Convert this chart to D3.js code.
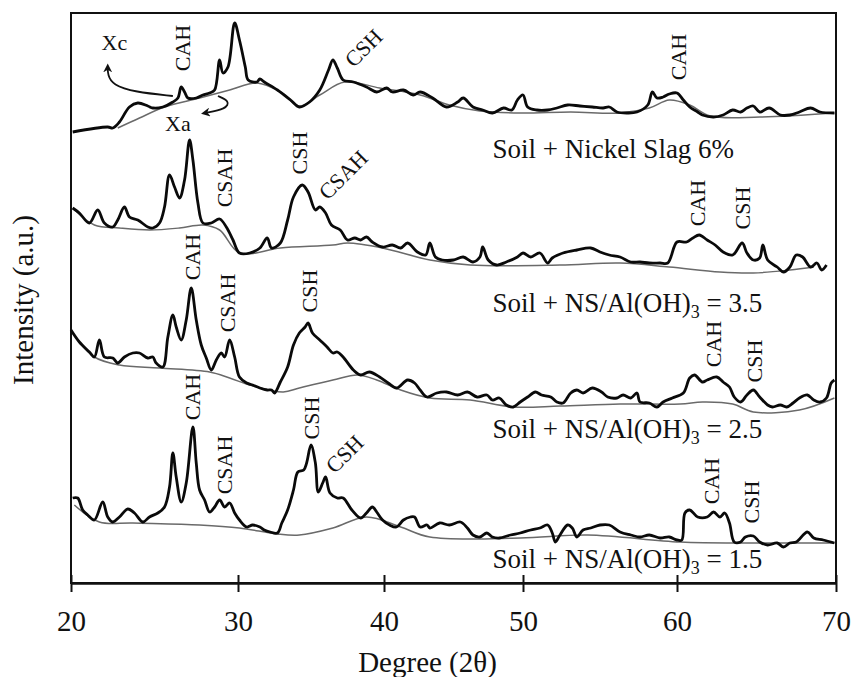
<!DOCTYPE html>
<html>
<head>
<meta charset="utf-8">
<script src="https://cdn.jsdelivr.net/npm/d3@7"></script>
<style>
  body { margin: 0; background: #fff; }
  text { font-family: "Liberation Serif", "Times New Roman", serif; fill: #111; }
</style>
</head>
<body>
<svg id="chart" width="853" height="677"></svg>
<script>
// x ticks (degree 2θ) and their labels
const tickDegrees = [20, 30, 40, 50, 60, 70];
const tickLabels = ['20', '30', '40', '50', '60', '70'];

// traced patterns, [2θ, intensity a.u. (stacked offset included)]
const nickelSlag6 = [[20.1,451],[22.2,456],[22.5,455],[22.9,461],[23.5,476],[24.0,480],[24.6,477],[24.9,475],[25.5,476],[26.1,481],[26.4,485],[26.6,496],[26.8,491],[27.0,485],[27.5,485],[27.9,488],[28.3,490],[28.6,493],[28.9,523],[29.1,510],[29.4,516],[29.8,560],[30.1,543],[30.5,516],[30.7,503],[31.3,501],[31.5,504],[31.8,501],[32.7,493],[33.6,483],[34.2,476],[34.9,481],[35.6,493],[36.2,513],[36.5,523],[36.8,515],[37.2,503],[37.9,501],[38.8,496],[39.5,491],[40.2,495],[40.6,491],[41.4,493],[42.1,488],[42.6,491],[43.5,485],[44.5,476],[45.3,481],[45.7,485],[46.4,476],[47.1,473],[47.8,470],[48.6,475],[49.2,473],[49.6,483],[50.0,488],[50.3,476],[50.9,473],[51.6,473],[52.2,475],[52.9,478],[53.7,477],[54.5,476],[55.2,475],[55.6,476],[56.1,471],[56.8,470],[57.4,471],[58.1,478],[58.4,491],[58.7,485],[59.1,486],[59.5,489],[60.0,490],[60.4,483],[60.8,476],[61.3,471],[61.6,468],[62.3,466],[62.9,468],[63.5,473],[64.0,471],[64.4,475],[64.8,477],[65.2,471],[65.8,475],[66.5,468],[67.1,468],[67.7,471],[68.4,475],[69.0,471],[69.9,470]];
const nickelSlag6Base = [[22.8,455],[24.1,465],[25.6,476],[27.7,485],[29.5,493],[31.3,500],[32.9,491],[34.2,477],[35.6,488],[37.3,501],[39.7,495],[42.6,488],[44.7,478],[46.9,472],[49.8,470],[53.1,471],[56.3,470],[58.2,475],[59.5,483],[60.8,478],[62.1,467],[65.2,466],[69.9,470]];

const ratio35 = [[20.1,375],[20.5,370],[21.1,360],[21.6,373],[22.0,360],[22.5,356],[22.8,363],[23.2,376],[23.5,366],[24.0,363],[24.6,356],[24.9,355],[25.3,360],[25.6,376],[25.9,408],[26.2,396],[26.5,385],[26.8,403],[27.1,443],[27.3,423],[27.6,380],[27.9,360],[28.4,360],[28.9,364],[29.3,356],[29.7,343],[30.1,330],[30.8,330],[31.5,335],[32.0,345],[32.3,335],[32.9,340],[33.4,363],[33.8,386],[34.4,398],[34.8,391],[35.3,373],[35.6,376],[36.0,370],[36.4,358],[37.0,353],[37.5,343],[38.0,345],[38.4,343],[38.8,346],[39.2,341],[39.9,336],[40.6,338],[41.2,335],[41.7,340],[42.4,331],[43.0,328],[43.3,340],[43.7,326],[44.2,323],[45.0,323],[45.7,326],[46.4,321],[46.9,326],[47.1,336],[47.5,323],[48.1,318],[48.8,321],[49.6,326],[50.0,330],[50.5,326],[51.1,330],[51.6,320],[51.9,325],[52.6,330],[53.5,333],[54.4,335],[55.0,331],[55.6,328],[56.3,326],[57.0,321],[57.6,321],[58.2,320],[58.9,320],[59.4,320],[60.0,341],[60.6,341],[61.0,345],[61.4,348],[61.9,343],[62.4,338],[62.9,331],[63.5,328],[64.1,340],[64.4,330],[64.8,323],[65.2,325],[65.4,338],[65.7,323],[66.3,316],[66.7,311],[67.1,316],[67.5,328],[67.9,326],[68.4,316],[68.8,320],[69.1,313],[69.4,318]];
const ratio35Base = [[20.1,375],[21.4,358],[22.9,355],[24.7,353],[26.5,355],[27.9,358],[28.9,353],[30.1,330],[32.9,335],[36.5,338],[37.5,340],[39.9,335],[43.3,323],[46.2,318],[52.4,318],[56.3,320],[59.5,316],[62.7,311],[64.8,310],[67.1,313],[68.6,316]];

const ratio25 = [[20.0,253],[20.5,241],[21.1,231],[21.4,226],[21.7,243],[22.0,226],[22.5,225],[22.8,220],[23.2,226],[23.7,230],[24.1,230],[24.6,225],[24.9,226],[25.1,220],[25.5,216],[25.8,246],[26.1,268],[26.3,256],[26.6,243],[26.9,263],[27.2,295],[27.5,263],[27.8,238],[28.1,225],[28.4,213],[28.7,223],[29.0,230],[29.2,226],[29.5,243],[29.8,226],[30.1,206],[30.6,200],[31.0,198],[31.5,195],[32.0,193],[32.3,193],[32.5,190],[32.9,201],[33.4,216],[33.8,238],[34.2,250],[34.6,256],[34.8,260],[35.1,250],[35.6,243],[36.1,236],[36.5,230],[36.8,231],[37.2,226],[37.9,213],[38.4,208],[39.0,211],[39.7,206],[40.3,200],[40.9,195],[41.7,203],[42.2,200],[42.6,193],[43.1,186],[43.8,190],[44.5,191],[45.3,188],[46.0,191],[46.7,186],[47.4,188],[47.8,183],[48.3,185],[48.8,178],[49.3,176],[49.8,181],[50.3,186],[50.8,191],[51.2,188],[51.8,186],[52.2,181],[52.6,180],[53.1,190],[53.5,193],[53.9,190],[54.5,195],[55.1,191],[55.5,186],[56.1,185],[56.5,188],[57.0,185],[57.4,190],[57.6,181],[58.2,180],[58.7,176],[59.1,181],[59.7,185],[60.4,190],[60.8,205],[61.1,208],[61.6,201],[61.9,203],[62.5,206],[62.9,201],[63.3,196],[63.6,186],[64.0,181],[64.4,188],[64.8,193],[65.2,186],[65.7,178],[66.0,176],[66.5,178],[66.9,176],[67.3,180],[67.7,185],[68.2,188],[68.6,183],[69.0,181],[69.4,185],[69.7,200],[69.9,203]];
const ratio25Base = [[20.1,250],[21.4,226],[22.9,218],[25.3,215],[28.3,211],[29.5,205],[30.8,198],[33.1,191],[34.2,195],[36.5,203],[38.2,208],[39.5,203],[41.2,193],[43.3,185],[46.2,183],[49.3,176],[52.4,177],[56.3,179],[60.2,179],[61.6,181],[63.5,179],[64.8,171],[67.7,173],[69.9,185]];

const ratio15 = [[20.1,85],[20.4,85],[20.7,73],[21.0,68],[21.4,63],[21.9,81],[22.2,66],[22.5,61],[22.9,66],[23.4,74],[23.8,70],[24.3,61],[24.7,66],[25.2,70],[25.6,76],[25.9,96],[26.1,130],[26.3,106],[26.6,81],[26.9,100],[27.3,156],[27.5,120],[27.7,93],[28.0,83],[28.3,71],[28.6,76],[28.9,83],[29.2,76],[29.5,80],[29.8,70],[30.1,63],[30.6,56],[31.0,58],[31.5,56],[31.8,53],[32.2,51],[32.7,50],[33.0,60],[33.4,73],[33.8,93],[34.1,111],[34.5,113],[34.7,120],[35.0,138],[35.3,120],[35.5,91],[35.8,100],[36.0,106],[36.3,90],[36.8,85],[37.2,85],[37.8,73],[38.4,65],[38.8,70],[39.2,76],[39.5,71],[39.9,63],[40.4,58],[40.9,56],[41.4,63],[41.9,66],[42.2,66],[42.6,56],[43.1,58],[43.3,55],[44.0,60],[44.7,58],[45.5,61],[46.0,55],[46.4,48],[46.9,46],[47.4,50],[47.8,46],[48.3,45],[49.1,48],[49.8,50],[50.5,53],[51.1,55],[51.6,58],[51.9,50],[52.1,41],[52.4,48],[52.9,58],[53.2,55],[53.5,46],[53.9,53],[54.4,55],[55.0,58],[55.6,58],[56.3,51],[57.0,48],[57.6,46],[58.2,48],[58.9,45],[59.5,46],[60.0,43],[60.3,43],[60.5,70],[60.8,73],[61.3,66],[61.9,66],[62.3,71],[62.7,66],[63.0,70],[63.3,60],[63.6,41],[64.0,41],[64.3,46],[64.8,47],[65.2,41],[65.7,38],[66.3,40],[66.7,36],[67.1,40],[67.5,41],[68.2,51],[68.6,45],[69.2,43],[69.9,40]];
const ratio15Base = [[20.2,78],[21.7,61],[23.7,60],[27.7,58],[30.1,55],[32.7,49],[34.2,48],[36.5,55],[38.8,66],[41.2,56],[43.3,46],[49.8,45],[54.2,48],[60.2,41],[64.8,40],[69.9,40]];

const sampleNames = ['Soil + Nickel Slag 6%', 'Soil + NS/Al(OH)3 = 3.5', 'Soil + NS/Al(OH)3 = 2.5', 'Soil + NS/Al(OH)3 = 1.5'];
const patterns = [nickelSlag6, ratio35, ratio25, ratio15];
const baselines = [nickelSlag6Base, ratio35Base, ratio25Base, ratio15Base];

// phase labels: text, 2θ, intensity, rotation
const phaseLabels = [
  ['CAH', 26.7, 535, -90], ['CSH', 38.6, 535, -45], ['CAH', 60.1, 526, -90],
  ['CSAH', 29.2, 405, -90], ['CSH', 34.2, 430, -90], ['CSAH', 37.2, 408, -45], ['CAH', 61.3, 380, -90], ['CSH', 64.1, 375, -90],
  ['CAH', 27.3, 326, -90], ['CSAH', 29.4, 280, -90], ['CSH', 34.9, 292, -90], ['CAH', 62.3, 239, -90], ['CSH', 64.9, 222, -90],
  ['CAH', 27.3, 186, -90], ['CSAH', 29.2, 118, -90], ['CSH', 35.0, 165, -90], ['CSH', 37.3, 129, -45], ['CAH', 62.2, 102, -90], ['CSH', 64.7, 81, -90]
];
const sampleLabelPos = [[47.8, 425], [47.8, 271], [47.8, 145], [47.8, 15]];

const svg = d3.select('#chart');

// the printed axis has uneven tick spacing, so the scale is piecewise
const x = d3.scaleLinear().domain(tickDegrees).range([71, 238, 384, 523, 677, 836]);
const y = d3.scaleLinear().domain([0, 570]).range([583, 13]);

// frame
svg.append('rect')
  .attr('x', x(20)).attr('y', y(570))
  .attr('width', x(70) - x(20)).attr('height', y(0) - y(570))
  .attr('fill', 'none').attr('stroke', '#111').attr('stroke-width', 2);

const line = d3.line()
  .x(d => x(d[0]))
  .y(d => y(d[1]))
  .curve(d3.curveCatmullRom.alpha(0.5));

svg.append('g').selectAll('path')
  .data(baselines)
  .join('path')
  .attr('d', line)
  .attr('fill', 'none')
  .attr('stroke', '#6a6a6a')
  .attr('stroke-width', 1.5);

svg.append('g').selectAll('path')
  .data(patterns)
  .join('path')
  .attr('d', line)
  .attr('fill', 'none')
  .attr('stroke', '#0a0a0a')
  .attr('stroke-width', 2.8)
  .attr('stroke-linejoin', 'round');

// x axis
const axis = svg.append('g')
  .attr('transform', `translate(0,${y(0)})`)
  .call(d3.axisBottom(x)
    .tickValues(tickDegrees)
    .tickFormat((d, i) => tickLabels[i])
    .tickSizeInner(9)
    .tickSizeOuter(0)
    .tickPadding(18));
axis.select('.domain').attr('stroke', '#111').attr('stroke-width', 2.5);
axis.selectAll('.tick line').attr('y1', -8).attr('y2', 9).attr('stroke', '#111').attr('stroke-width', 2);
axis.selectAll('.tick text')
  .attr('font-size', 29)
  .attr('fill', '#111')
  .style('font-family', '"Liberation Serif", serif');

svg.append('text')
  .attr('x', (x(20) + x(70)) / 2 - 26).attr('y', 672)
  .attr('text-anchor', 'middle')
  .attr('font-size', 29)
  .text('Degree (2θ)');

svg.append('text')
  .attr('transform', 'translate(33,300) rotate(-90)')
  .attr('text-anchor', 'middle')
  .attr('font-size', 29)
  .text('Intensity (a.u.)');

// phase labels
svg.append('g').selectAll('text')
  .data(phaseLabels)
  .join('text')
  .attr('transform', d => `translate(${x(d[1])},${y(d[2])}) rotate(${d[3]})`)
  .attr('text-anchor', 'middle')
  .attr('dominant-baseline', 'central')
  .attr('font-size', 22)
  .text(d => d[0]);

// sample labels, with subscript in Al(OH)3
const sl = svg.append('g').selectAll('text')
  .data(sampleNames)
  .join('text')
  .attr('x', (d, i) => x(sampleLabelPos[i][0]))
  .attr('y', (d, i) => y(sampleLabelPos[i][1]))
  .attr('font-size', 27);
sl.each(function (d) {
  const t = d3.select(this);
  const m = d.match(/^(.*\(OH\))3(.*)$/);
  if (!m) { t.text(d); return; }
  t.append('tspan').text(m[1]);
  t.append('tspan').attr('font-size', 18).attr('dy', 6).text('3');
  t.append('tspan').attr('dy', -6).text(m[2]);
});

// Xc / Xa markers on the top pattern
svg.append('defs').append('marker')
  .attr('id', 'arrow')
  .attr('viewBox', '0 0 10 10')
  .attr('refX', 6).attr('refY', 5)
  .attr('markerWidth', 9).attr('markerHeight', 9)
  .attr('markerUnits', 'userSpaceOnUse')
  .attr('orient', 'auto')
  .append('path').attr('d', 'M0,0 L10,5 L0,10 L3,5 z').attr('fill', '#111');

const arrowLine = d3.line().x(d => x(d[0])).y(d => y(d[1])).curve(d3.curveBasis);
const xcArrow = [[26.1, 487], [23.8, 491], [22.5, 498], [22.2, 508], [22.2, 516]];
const xaArrow = [[28.8, 487], [29.5, 482], [29.3, 474], [28.0, 470]];
svg.append('g').selectAll('path')
  .data([xcArrow, xaArrow])
  .join('path')
  .attr('d', arrowLine)
  .attr('fill', 'none')
  .attr('stroke', '#111')
  .attr('stroke-width', 1.8)
  .attr('marker-end', 'url(#arrow)');

svg.append('text').attr('x', x(22.6)).attr('y', y(541))
  .attr('text-anchor', 'middle').attr('dominant-baseline', 'central')
  .attr('font-size', 22).text('Xc');
svg.append('text').attr('x', x(26.4)).attr('y', y(460))
  .attr('text-anchor', 'middle').attr('dominant-baseline', 'central')
  .attr('font-size', 22).text('Xa');
</script>
</body>
</html>
